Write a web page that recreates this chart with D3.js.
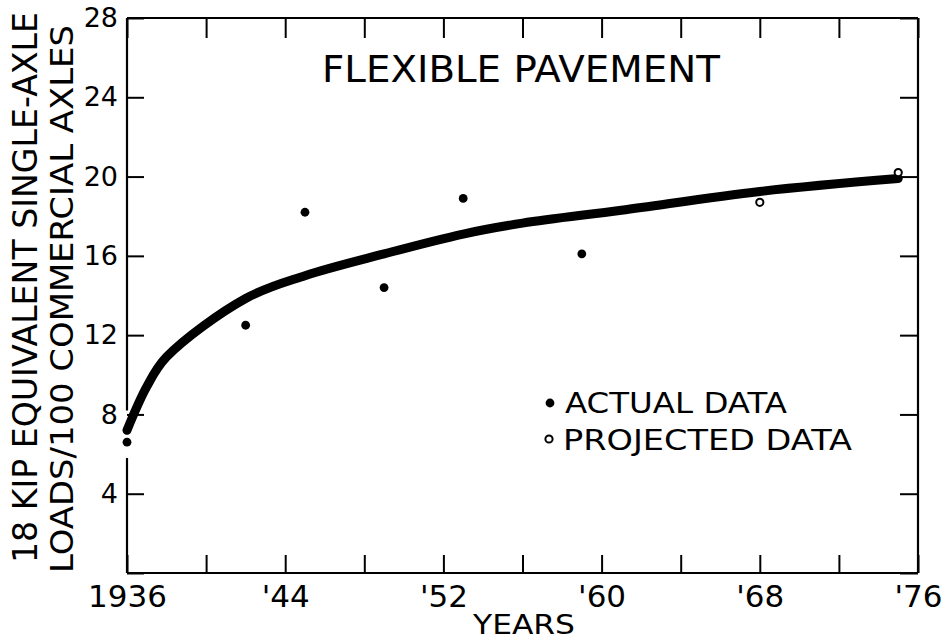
<!DOCTYPE html>
<html>
<head>
<meta charset="utf-8">
<script src="https://cdn.jsdelivr.net/npm/d3@7"></script>
<style>
  html, body { margin: 0; padding: 0; background: #fff; }
  svg { display: block; }
  text { font-family: "DejaVu Sans", sans-serif; fill: #000; }
</style>
</head>
<body>
<svg id="chart" width="942" height="641"></svg>
<script>
// Trend curve (thick line)
const curveYears  = [1936, 1937, 1938, 1942, 1945, 1949, 1953, 1956, 1961, 1968, 1975];
const curveValues = [7.2, 9.4, 10.9, 13.85, 15.0, 16.1, 17.1, 17.65, 18.3, 19.25, 19.9];

// Observed points (filled)
const actualYears  = [1936, 1942, 1945, 1949, 1953, 1959];
const actualValues = [6.6, 12.5, 18.2, 14.4, 18.9, 16.1];

// Projected points (open)
const projectedYears  = [1968, 1975];
const projectedValues = [18.7, 20.2];

// Axis ticks
const xTickYears  = [1936, 1940, 1944, 1948, 1952, 1956, 1960, 1964, 1968, 1972, 1976];
const xTickLabels = ["1936", "", "'44", "", "'52", "", "'60", "", "'68", "", "'76"];
const yTickValues = [0, 4, 8, 12, 16, 20, 24, 28];
const yTickLabels = ["", "4", "8", "12", "16", "20", "24", "28"];

const svg = d3.select("#chart");
const plotLeft = 127, plotRight = 918, plotTop = 18, plotBottom = 573;

const x = d3.scaleLinear().domain([1936, 1976]).range([plotLeft, plotRight]);
const y = d3.scaleLinear().domain([0, 28]).range([plotBottom, plotTop]);

// Bottom axis (inward ticks, labels below)
const xAxis = d3.axisBottom(x)
  .tickValues(xTickYears)
  .tickSizeInner(-18).tickSizeOuter(0).tickPadding(12)
  .tickFormat((d, i) => xTickLabels[i]);
const gx = svg.append("g").attr("transform", `translate(0,${plotBottom})`).call(xAxis);
gx.select(".domain").remove();
gx.selectAll("line").attr("stroke", "#000").attr("stroke-width", 2);
gx.selectAll("text").attr("font-size", 31).attr("font-family", "DejaVu Sans");

// Top axis (ticks only)
const gxt = svg.append("g").attr("transform", `translate(0,${plotTop})`)
  .call(d3.axisTop(x).tickValues(xTickYears).tickSizeInner(-20).tickSizeOuter(0).tickFormat(""));
gxt.select(".domain").remove();
gxt.selectAll("line").attr("stroke", "#000").attr("stroke-width", 2);

// Left axis (inward ticks, labels on the left)
const yAxis = d3.axisLeft(y)
  .tickValues(yTickValues)
  .tickSizeInner(-17).tickSizeOuter(0).tickPadding(9)
  .tickFormat((d, i) => yTickLabels[i]);
const gy = svg.append("g").attr("transform", `translate(${plotLeft},0)`).call(yAxis);
gy.select(".domain").remove();
gy.selectAll("line").attr("stroke", "#000").attr("stroke-width", 2);
gy.selectAll("text").attr("font-size", 27).attr("font-family", "DejaVu Sans");

// Right axis (ticks only)
const gyr = svg.append("g").attr("transform", `translate(${plotRight},0)`)
  .call(d3.axisRight(y).tickValues(yTickValues).tickSizeInner(-18).tickSizeOuter(0).tickFormat(""));
gyr.select(".domain").remove();
gyr.selectAll("line").attr("stroke", "#000").attr("stroke-width", 2);

// Frame; the left edge is broken where the curve starts
const frame = svg.append("g").attr("stroke", "#000").attr("stroke-width", 2.2).attr("fill", "none");
frame.append("line").attr("x1", plotLeft).attr("x2", plotRight).attr("y1", plotTop).attr("y2", plotTop);
frame.append("line").attr("x1", plotLeft).attr("x2", plotRight).attr("y1", plotBottom).attr("y2", plotBottom);
frame.append("line").attr("x1", plotRight).attr("x2", plotRight).attr("y1", plotTop).attr("y2", plotBottom);
frame.append("line").attr("x1", plotLeft).attr("x2", plotLeft).attr("y1", plotTop).attr("y2", y(8.2));
frame.append("line").attr("x1", plotLeft).attr("x2", plotLeft).attr("y1", y(5.8)).attr("y2", plotBottom);

// Trend curve
const line = d3.line()
  .x((d, i) => x(curveYears[i]))
  .y(d => y(d))
  .curve(d3.curveCatmullRom.alpha(0.5));
svg.append("path")
  .attr("d", line(curveValues))
  .attr("fill", "none")
  .attr("stroke", "#000")
  .attr("stroke-width", 9)
  .attr("stroke-linecap", "round")
  .attr("stroke-linejoin", "round");

// Actual data points
svg.append("g").selectAll("circle")
  .data(actualValues)
  .join("circle")
  .attr("cx", (d, i) => x(actualYears[i]))
  .attr("cy", d => y(d))
  .attr("r", 4.4)
  .attr("fill", "#000");

// Projected data points
svg.append("g").selectAll("circle")
  .data(projectedValues)
  .join("circle")
  .attr("cx", (d, i) => x(projectedYears[i]))
  .attr("cy", d => y(d))
  .attr("r", 3.6)
  .attr("fill", "#fff")
  .attr("stroke", "#000")
  .attr("stroke-width", 2);

// Title
svg.append("text")
  .attr("x", 322).attr("y", 82)
  .attr("font-size", 37)
  .attr("textLength", 398).attr("lengthAdjust", "spacingAndGlyphs")
  .text("FLEXIBLE PAVEMENT");

// X axis title
svg.append("text")
  .attr("x", 473).attr("y", 634)
  .attr("font-size", 27)
  .attr("textLength", 102).attr("lengthAdjust", "spacingAndGlyphs")
  .text("YEARS");

// Y axis title (two lines)
svg.append("text")
  .attr("transform", "translate(37,563) rotate(-90)")
  .attr("font-size", 33)
  .attr("textLength", 551).attr("lengthAdjust", "spacingAndGlyphs")
  .text("18 KIP EQUIVALENT SINGLE-AXLE");
svg.append("text")
  .attr("transform", "translate(73,573) rotate(-90)")
  .attr("font-size", 32)
  .attr("textLength", 548).attr("lengthAdjust", "spacingAndGlyphs")
  .text("LOADS/100 COMMERCIAL  AXLES");

// Legend
const legend = svg.append("g");
legend.append("circle").attr("cx", 550).attr("cy", 403).attr("r", 4.4).attr("fill", "#000");
legend.append("text")
  .attr("x", 565).attr("y", 413)
  .attr("font-size", 28)
  .attr("textLength", 222).attr("lengthAdjust", "spacingAndGlyphs")
  .text("ACTUAL DATA");
legend.append("circle").attr("cx", 549).attr("cy", 439).attr("r", 3.6)
  .attr("fill", "#fff").attr("stroke", "#000").attr("stroke-width", 2);
legend.append("text")
  .attr("x", 563).attr("y", 450)
  .attr("font-size", 28)
  .attr("textLength", 289).attr("lengthAdjust", "spacingAndGlyphs")
  .text("PROJECTED DATA");
</script>
</body>
</html>
